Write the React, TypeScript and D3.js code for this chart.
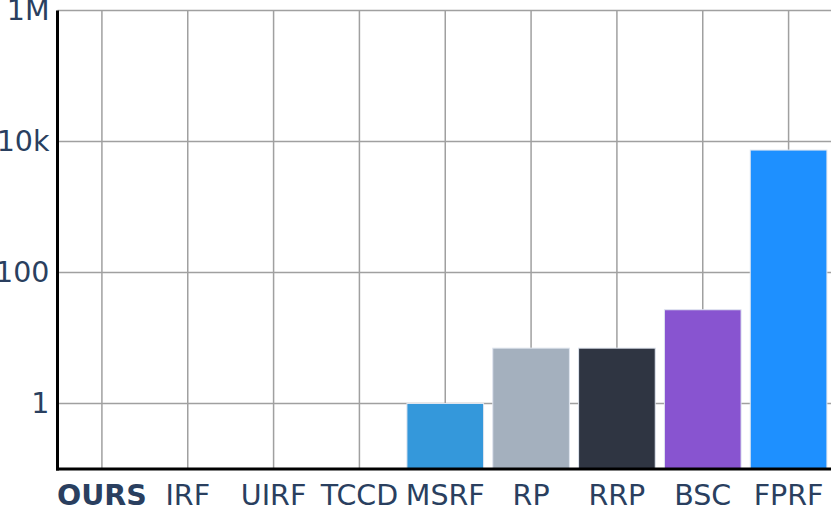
import React from "react";
import * as d3 from "d3";

const categories = ["OURS", "IRF", "UIRF", "TCCD", "MSRF", "RP", "RRP", "BSC", "FPRF"];
const values: (number | null)[] = [null, null, null, null, 1, 7, 7, 27, 7400];
const barColors = ["#3498db", "#3498db", "#3498db", "#3498db", "#3498db", "#a4b0be", "#2f3542", "#8854d0", "#1e90ff"];
const yTicks = [1, 100, 10000, 1000000];
const yTickLabels = ["1", "100", "10k", "1M"];

const W = 831;
const H = 506;
const left = 57.5;
const right = 831;
const top = 10.5;
const bottom = 469;
const textColor = "#2a3f5f";
const fontFamily = "Verdana, 'DejaVu Sans', sans-serif";

export default function App() {
  const x = d3.scaleBand<string>().domain(categories).range([59, 831.5]).paddingInner(0.107).paddingOuter(0.0535);
  const y = d3.scaleLog().domain([0.1, 1e6]).range([bottom, top]);
  return (
    <div style={{ position: "fixed", left: 0, top: 0 }}>
      <svg width={W} height={H} style={{ display: "block", background: "#fff" }}>
        {categories.map((c) => {
          const cx = (x(c) as number) + x.bandwidth() / 2;
          return <line key={"vg" + c} x1={cx} x2={cx} y1={top} y2={bottom} stroke="#a0a0a0" strokeWidth={1.5} />;
        })}
        {yTicks.map((t) => (
          <line key={"hg" + t} x1={left} x2={right} y1={y(t)} y2={y(t)} stroke="#a0a0a0" strokeWidth={1.5} />
        ))}
        {categories.map((c, i) => {
          const v = values[i];
          if (v == null) return null;
          const yt = y(v);
          return (
            <rect
              key={"b" + c}
              x={x(c) as number}
              y={yt}
              width={x.bandwidth()}
              height={bottom - yt}
              fill={barColors[i]}
              stroke="#dfe5ef"
              strokeWidth={1}
            />
          );
        })}
        <line x1={left} x2={left} y1={top} y2={bottom + 1.5} stroke="#000" strokeWidth={3} />
        <line x1={left - 1.5} x2={right} y1={bottom} y2={bottom} stroke="#000" strokeWidth={3} />
        {yTicks.map((t, i) => (
          <text
            key={"yl" + t}
            x={49.5}
            y={y(t)}
            textAnchor="end"
            dominantBaseline="central"
            fill={textColor}
            fontFamily={fontFamily}
            fontSize={28.5}
          >
            {yTickLabels[i]}
          </text>
        ))}
        {categories.map((c, i) => (
          <text
            key={"xl" + c}
            x={(x(c) as number) + x.bandwidth() / 2}
            y={505}
            textAnchor="middle"
            fill={textColor}
            fontFamily={fontFamily}
            fontSize={28.5}
            fontWeight={i === 0 ? "bold" : "normal"}
          >
            {c}
          </text>
        ))}
      </svg>
    </div>
  );
}
